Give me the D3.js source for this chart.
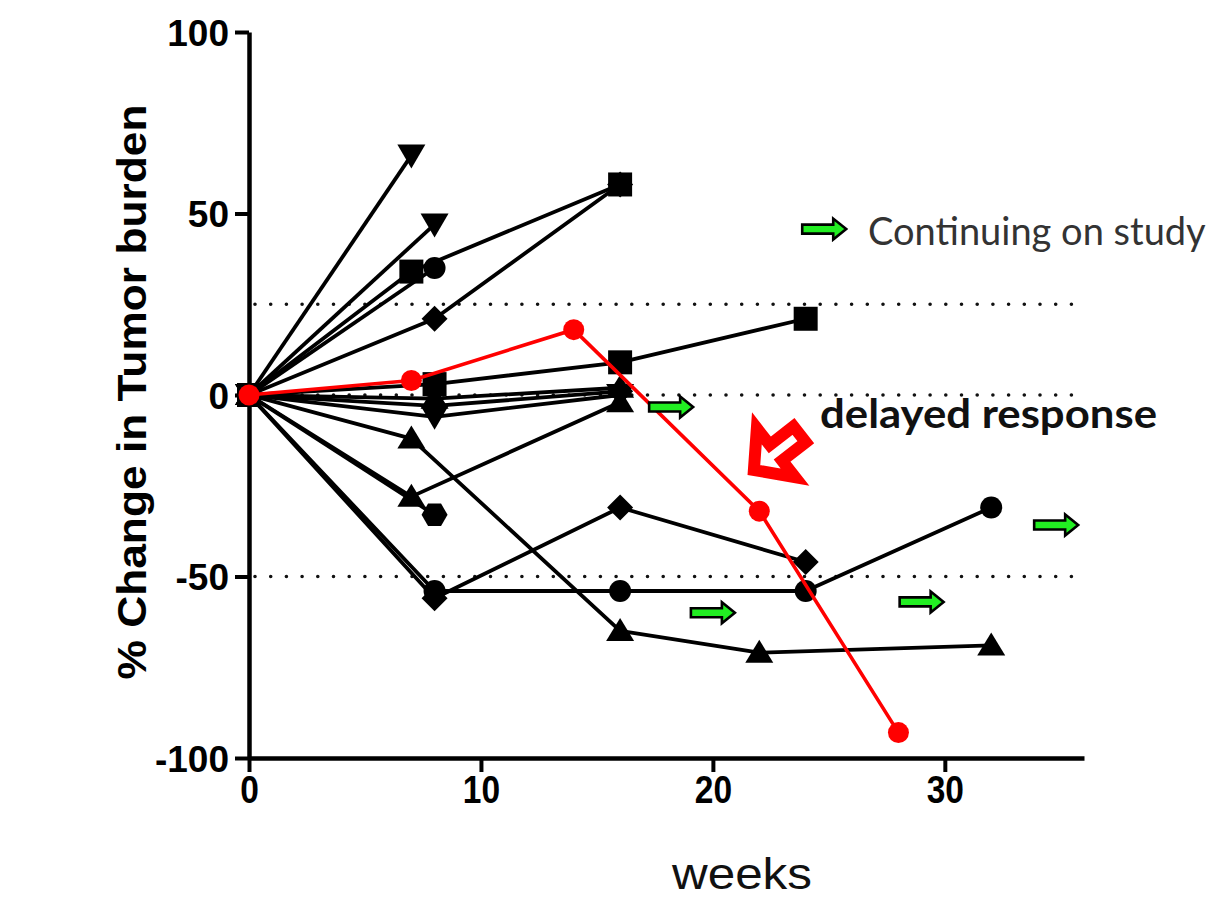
<!DOCTYPE html>
<html>
<head>
<meta charset="utf-8">
<script src="https://cdn.jsdelivr.net/npm/d3@7"></script>
<style>
  html, body { margin: 0; padding: 0; background: #fff; }
  svg { display: block; }
</style>
</head>
<body>
<svg id="chart" width="1206" height="898"></svg>
<script>
// ---------------- data ----------------
const xTicks = [0, 10, 20, 30];
const yTicks = [-100, -50, 0, 50, 100];
const refLines = [25, 0, -50];

// one entry per patient: weeks, % change, marker
const patientWeeks = [
  [0, 7],
  [0, 8],
  [0, 7, 16],
  [0, 8],
  [0, 8, 16],
  [0, 8, 16, 24],
  [0, 8, 16],
  [0, 8, 16],
  [0, 8, 16],
  [0, 7, 16, 22, 32],
  [0, 7, 16],
  [0, 8],
  [0, 8, 16, 24, 32],
  [0, 8, 16, 24]
];
const patientChange = [
  [0, 66],
  [0, 47],
  [0, 34, 58],
  [0, 35],
  [0, 21, 58],
  [0, 3, 9, 21],
  [0, -1, 2],
  [0, -3, 1],
  [0, -6, 0],
  [0, -12, -65, -71, -69],
  [0, -28, -2],
  [0, -33],
  [0, -54, -54, -54, -31],
  [0, -56, -31, -46]
];
const patientMarker = [
  "triangleDown", "triangleDown", "square", "circle", "diamond", "square",
  "triangle", "diamond", "triangleDown", "triangle", "triangle", "hexagon",
  "circle", "diamond"
];

// highlighted delayed responder
const redWeeks = [0, 7, 14, 22, 28];
const redChange = [0, 4, 18, -32, -93];

// "continuing on study" arrows
const contWeeks = [18.2, 20.0, 29.0, 34.8];
const contChange = [-3.3, -60, -57, -35.8];

// ---------------- layout ----------------
const svg = d3.select("#chart");
const x = d3.scaleLinear().domain([0, 36]).range([249, 1084]);
const y = d3.scaleLinear().domain([-100, 100]).range([758, 32]);

// dotted reference lines
svg.append("g").selectAll("line").data(refLines).join("line")
  .attr("x1", x(0) + 6).attr("x2", x(36) - 6)
  .attr("y1", d => y(d)).attr("y2", d => y(d))
  .attr("stroke", "#111").attr("stroke-width", 3.6)
  .attr("stroke-linecap", "round").attr("stroke-dasharray", "0,15.7");

// axes
const yAxis = svg.append("g").attr("transform", `translate(${x(0)},0)`)
  .call(d3.axisLeft(y).tickValues(yTicks).tickFormat(d => String(d))
    .tickSize(14).tickSizeOuter(0).tickPadding(6));
const xAxis = svg.append("g").attr("transform", `translate(0,${y(-100)})`)
  .call(d3.axisBottom(x).tickValues(xTicks).tickFormat(d => String(d))
    .tickSize(14).tickSizeOuter(0).tickPadding(3));
[yAxis, xAxis].forEach(g => {
  g.select(".domain").attr("stroke", "#000").attr("stroke-width", 4.5);
  g.selectAll(".tick line").attr("stroke", "#000").attr("stroke-width", 4);
  g.selectAll("text").attr("fill", "#000")
    .attr("font-family", "'Liberation Sans', Arial, sans-serif")
    .attr("font-weight", "bold");
});
yAxis.selectAll("text").attr("font-size", 37).attr("dy", "0.36em");
xAxis.selectAll("text").attr("font-size", 39).attr("dy", "0.72em")
  .attr("transform", "scale(0.86,1)");

// axis titles
svg.append("text")
  .attr("transform", `translate(146,392) rotate(-90)`)
  .attr("text-anchor", "middle")
  .attr("font-family", "'Liberation Sans', Arial, sans-serif")
  .attr("font-weight", "bold").attr("font-size", 41)
  .attr("textLength", 575).attr("lengthAdjust", "spacingAndGlyphs")
  .text("% Change in Tumor burden");

svg.append("text")
  .attr("x", 742).attr("y", 889)
  .attr("text-anchor", "middle")
  .attr("font-family", "'Liberation Sans', Arial, sans-serif")
  .attr("font-size", 45).attr("fill", "#111")
  .attr("textLength", 140).attr("lengthAdjust", "spacingAndGlyphs")
  .text("weeks");

// marker shapes
function markerPath(type) {
  switch (type) {
    case "square": return "M-12,-12H12V12H-12Z";
    case "circle": return d3.symbol(d3.symbolCircle, Math.PI * 11 * 11)();
    case "triangle": return "M0,-13L14,10L-14,10Z";
    case "triangleDown": return "M0,13L14,-11L-14,-11Z";
    case "diamond": return "M0,-13L13,0L0,13L-13,0Z";
    case "hexagon": {
      const r = 13, pts = [];
      for (let i = 0; i < 6; i++) {
        const a = Math.PI / 3 * i;
        pts.push([r * Math.cos(a), r * Math.sin(a)]);
      }
      return "M" + pts.map(p => p.join(",")).join("L") + "Z";
    }
  }
}

const line = d3.line().x(d => x(d[0])).y(d => y(d[1]));

// black patient series
const gSeries = svg.append("g");
patientWeeks.forEach((wk, i) => {
  const pts = wk.map((w, j) => [w, patientChange[i][j]]);
  const g = gSeries.append("g");
  g.append("path").attr("d", line(pts))
    .attr("fill", "none").attr("stroke", "#000").attr("stroke-width", 3.8)
    .attr("stroke-linejoin", "round");
  g.selectAll("path.m").data(pts.slice(1)).join("path").attr("class", "m")
    .attr("d", markerPath(patientMarker[i]))
    .attr("transform", d => `translate(${x(d[0])},${y(d[1])})`)
    .attr("fill", "#000");
  g.append("path").attr("d", markerPath(patientMarker[i]))
    .attr("transform", `translate(${x(0)},${y(0)})`).attr("fill", "#000");
});

// red delayed responder
const redPts = redWeeks.map((w, j) => [w, redChange[j]]);
svg.append("path").attr("d", line(redPts))
  .attr("fill", "none").attr("stroke", "#ff0000").attr("stroke-width", 3.6);
svg.append("g").selectAll("circle").data(redPts).join("circle")
  .attr("cx", d => x(d[0])).attr("cy", d => y(d[1])).attr("r", 10.5)
  .attr("fill", "#ff0000");

// green "continuing" arrows
function greenArrow(g) {
  return g.append("path")
    .attr("d", "M-22,-4.5L9,-4.5L9,-10.5L22,0L9,10.5L9,4.5L-22,4.5Z")
    .attr("fill", "#22ee22").attr("stroke", "#000").attr("stroke-width", 2.6)
    .attr("stroke-linejoin", "miter");
}
contWeeks.forEach((w, i) => {
  greenArrow(svg.append("g").attr("transform", `translate(${x(w)},${y(contChange[i])})`));
});

// legend
const leg = svg.append("g").attr("transform", `translate(${x(24.8)},${y(45.7)})`);
greenArrow(leg);
svg.append("text")
  .attr("x", 868).attr("y", 245)
  .attr("font-family", "Lato, 'Open Sans', sans-serif")
  .attr("font-size", 38).attr("fill", "#333")
  .text("Continuing on study");

// delayed response annotation
const ann = svg.append("g").attr("transform", `translate(${x(21.7)},${y(-21)}) rotate(142)`);
ann.append("path")
  .attr("d", "M-60,-10L-30,-10L-30,-31L-2,0L-30,31L-30,10L-60,10Z")
  .attr("fill", "#fff").attr("stroke", "#ff0000").attr("stroke-width", 12)
  .attr("stroke-linejoin", "miter");
svg.append("text")
  .attr("x", 820).attr("y", 428)
  .attr("font-family", "Lato, 'Open Sans', sans-serif")
  .attr("font-weight", "bold").attr("font-size", 40).attr("fill", "#111")
  .attr("textLength", 337).attr("lengthAdjust", "spacingAndGlyphs")
  .text("delayed response");
</script>
</body>
</html>
